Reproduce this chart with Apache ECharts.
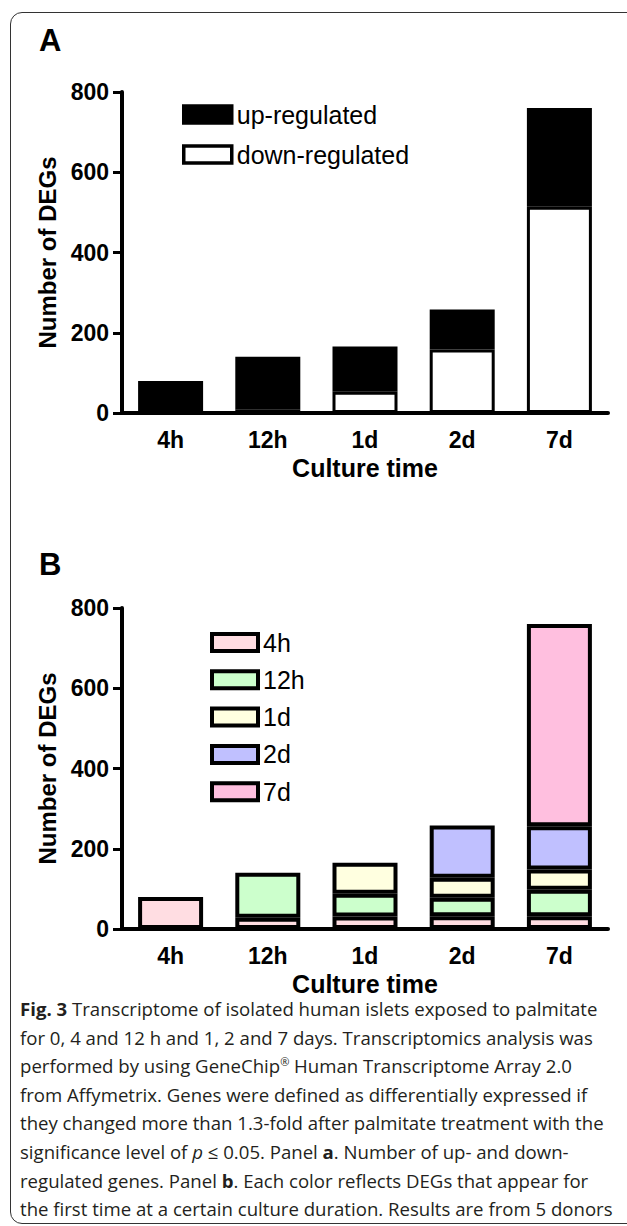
<!DOCTYPE html>
<html>
<head>
<meta charset="utf-8">
<title>DEGs over culture time</title>
<script src="https://cdn.jsdelivr.net/npm/echarts@6/dist/echarts.min.js"></script>
<style>
  html, body { margin: 0; padding: 0; background: #fff; }
  body { width: 627px; height: 1226px; position: relative; overflow: hidden; }
  .frame {
    position: absolute; left: 10px; top: 12px; width: 700px; height: 1212px;
    border: 1.5px solid #333; border-radius: 12px; box-sizing: border-box;
  }
  #chart { position: absolute; left: 0; top: 0; width: 627px; height: 1000px; }
  .caption {
    position: absolute; left: 20px; top: 995px;
    font-family: "Open Sans", sans-serif; font-size: 18.6px; line-height: 28.6px;
    color: #231f20; white-space: nowrap;
  }
  .caption sup { font-size: 11px; line-height: 0; vertical-align: 7px; }
</style>
</head>
<body>
<div class="frame"></div>
<div id="chart"></div>
<div class="caption"><b>Fig. 3</b> Transcriptome of isolated human islets exposed to palmitate<br>for 0, 4 and 12 h and 1, 2 and 7 days. Transcriptomics analysis was<br>performed by using GeneChip<sup>®</sup> Human Transcriptome Array 2.0<br>from Affymetrix. Genes were defined as differentially expressed if<br>they changed more than 1.3-fold after palmitate treatment with the<br>significance level of <i>p</i> ≤ 0.05. Panel <b>a</b>. Number of up- and down-<br>regulated genes. Panel <b>b</b>. Each color reflects DEGs that appear for<br>the first time at a certain culture duration. Results are from 5 donors</div>

<script>
// culture durations on the x axis
const categories = ["4h", "12h", "1d", "2d", "7d"];
const yTicks = [0, 200, 400, 600, 800];

// panel A: up / down regulated genes
const upRegulated = [80, 132, 113, 100, 246];
const downRegulated = [0, 8, 53, 158, 514];

// panel B: DEGs by the culture time they first appeared
const firstSeenNames = ["4h", "12h", "1d", "2d", "7d"];
const firstSeen4h = [80, 28, 31, 32, 32];
const firstSeen12h = [0, 112, 57, 46, 66];
const firstSeen1d = [0, 0, 77, 50, 50];
const firstSeen2d = [0, 0, 0, 130, 108];
const firstSeen7d = [0, 0, 0, 0, 504];
const firstSeenColors = ["#ffdde2", "#ccffcc", "#ffffe0", "#c0c0ff", "#ffbfdf"];

const font = "'Liberation Sans', Arial, sans-serif";

// empty segments are left out so they don't draw a stray border
const skipZero = (arr) => arr.map((v) => (v === 0 ? "-" : v));

const makeX = (gridIndex) => ({
  type: "category",
  gridIndex,
  data: categories,
  name: "Culture time",
  nameLocation: "middle",
  nameGap: 42,
  nameTextStyle: { fontFamily: font, fontWeight: "bold", fontSize: 25, color: "#000" },
  axisLine: { lineStyle: { color: "#000", width: 4 } },
  axisTick: { show: false },
  axisLabel: { margin: 15, fontFamily: font, fontWeight: "bold", fontSize: 23, color: "#000" },
});

const makeY = (gridIndex) => ({
  type: "value",
  gridIndex,
  min: yTicks[0],
  max: yTicks[yTicks.length - 1],
  interval: yTicks[1] - yTicks[0],
  name: "Number of DEGs",
  nameLocation: "middle",
  nameGap: 62,
  nameRotate: 90,
  nameTextStyle: { fontFamily: font, fontWeight: "bold", fontSize: 24, color: "#000" },
  axisLine: { show: true, lineStyle: { color: "#000", width: 4 } },
  axisTick: { show: true, length: 9, lineStyle: { color: "#000", width: 3 } },
  axisLabel: { margin: 13, fontFamily: font, fontWeight: "bold", fontSize: 23, color: "#000" },
  splitLine: { show: false },
});

const legendText = { fontFamily: font, fontSize: 25, color: "#000" };

const firstSeenData = [firstSeen4h, firstSeen12h, firstSeen1d, firstSeen2d, firstSeen7d];

const option = {
  animation: false,
  backgroundColor: "transparent",
  title: [
    { text: "A", left: 39, top: 25, padding: 0, textStyle: { fontFamily: font, fontWeight: "bold", fontSize: 31, color: "#000" } },
    { text: "B", left: 39, top: 549, padding: 0, textStyle: { fontFamily: font, fontWeight: "bold", fontSize: 31, color: "#000" } },
  ],
  grid: [
    { left: 122, width: 486, top: 92, height: 321, outerBoundsMode: "none" },
    { left: 122, width: 486, top: 608, height: 321, outerBoundsMode: "none" },
  ],
  legend: [
    {
      data: ["up-regulated", "down-regulated"],
      orient: "vertical",
      left: 182,
      top: 102,
      padding: 0,
      icon: "rect",
      itemWidth: 48,
      itemHeight: 17,
      itemGap: 15,
      itemStyle: { borderColor: "#000", borderWidth: 3.5 },
      textStyle: legendText,
      selectedMode: false,
    },
    {
      data: firstSeenNames,
      orient: "vertical",
      left: 210,
      top: 630,
      padding: 0,
      icon: "rect",
      itemWidth: 46,
      itemHeight: 17,
      itemGap: 12.3,
      itemStyle: { borderColor: "#000", borderWidth: 4 },
      textStyle: legendText,
      selectedMode: false,
    },
  ],
  xAxis: [makeX(0), makeX(1)],
  yAxis: [makeY(0), makeY(1)],
  series: [
    {
      name: "down-regulated",
      type: "bar",
      xAxisIndex: 0,
      yAxisIndex: 0,
      stack: "A",
      barWidth: 65,
      data: skipZero(downRegulated),
      itemStyle: { color: "#fff", borderColor: "#000", borderWidth: 3 },
    },
    {
      name: "up-regulated",
      type: "bar",
      xAxisIndex: 0,
      yAxisIndex: 0,
      stack: "A",
      barWidth: 65,
      data: skipZero(upRegulated),
      itemStyle: { color: "#000", borderColor: "#000", borderWidth: 3 },
    },
    ...firstSeenNames.map((name, i) => ({
      name,
      type: "bar",
      xAxisIndex: 1,
      yAxisIndex: 1,
      stack: "B",
      barWidth: 65,
      data: skipZero(firstSeenData[i]),
      itemStyle: { color: firstSeenColors[i], borderColor: "#000", borderWidth: 4 },
    })),
  ],
};

const chart = echarts.init(document.getElementById("chart"), null, { renderer: "svg" });
chart.setOption(option);
</script>
</body>
</html>
